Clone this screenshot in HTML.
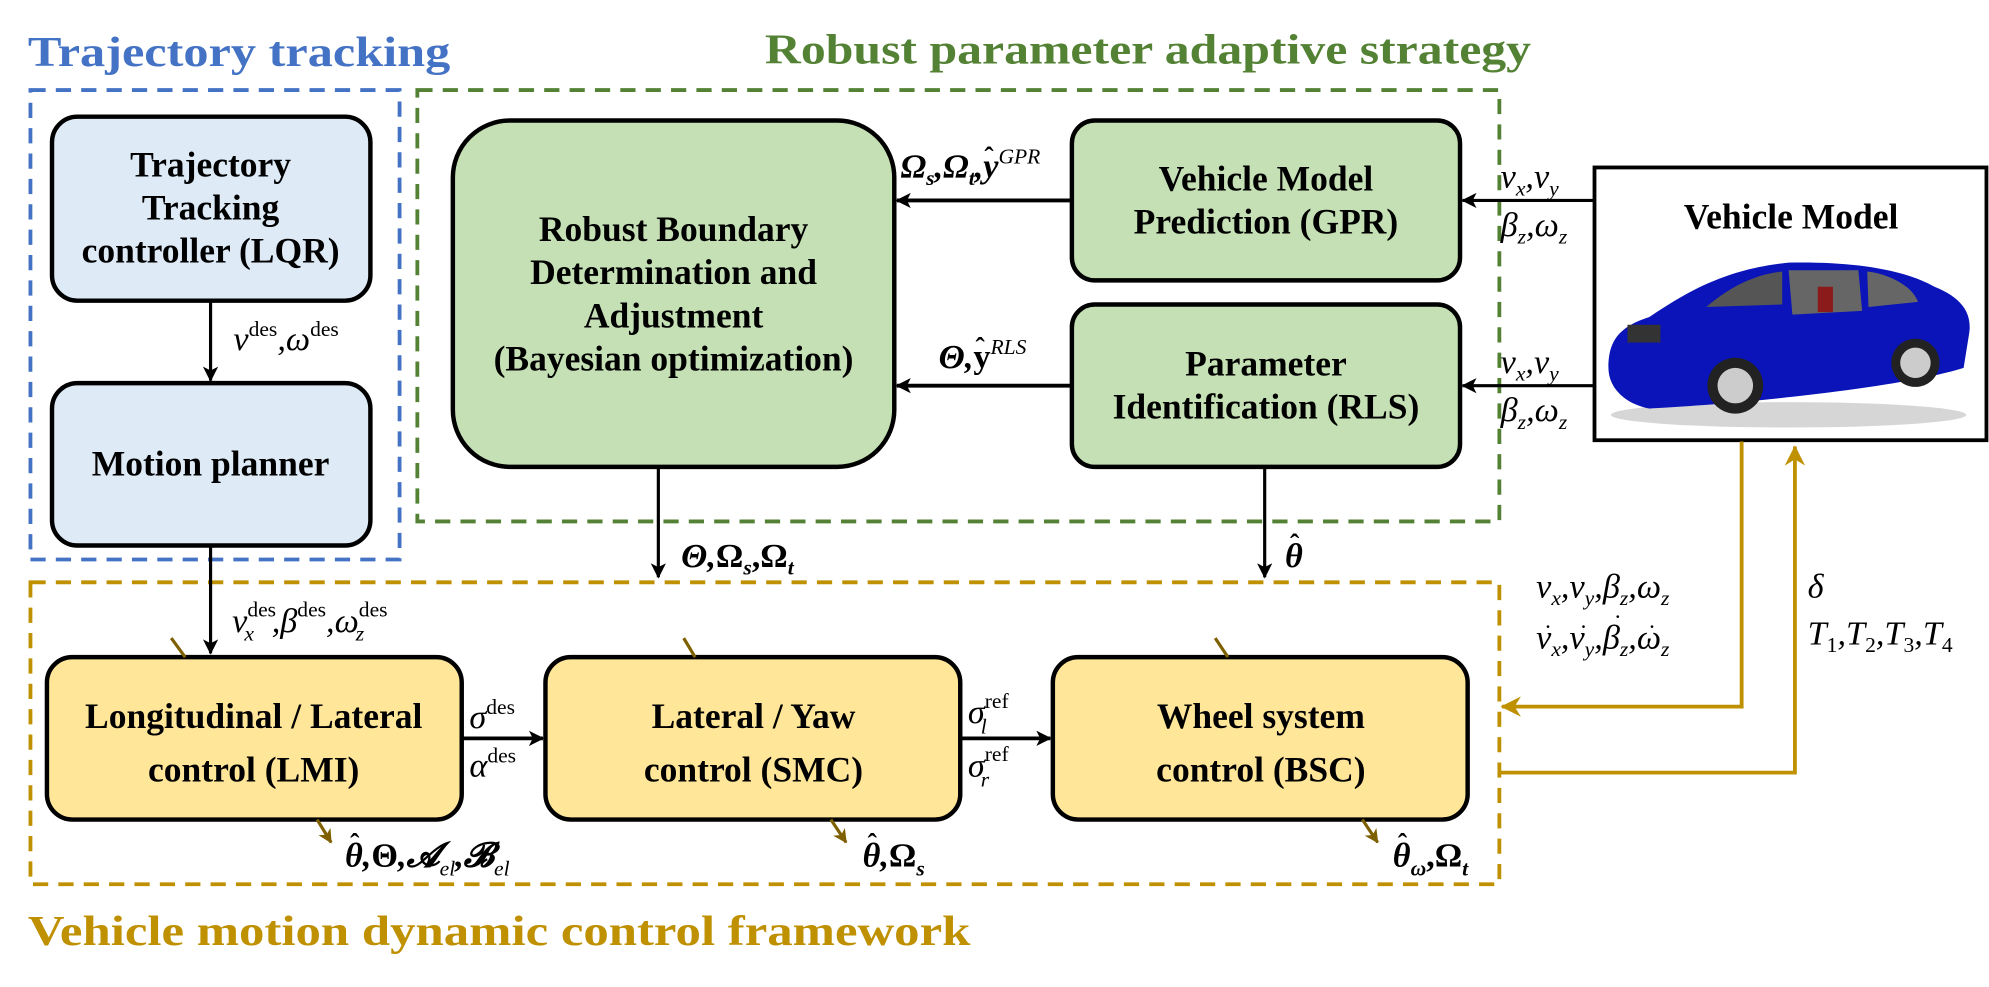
<!DOCTYPE html>
<html><head><meta charset="utf-8"><style>
html,body{margin:0;padding:0;background:#fff;}
svg{display:block;}
text{font-family:"Liberation Serif",serif;}
.b{font-weight:bold;font-size:28px;fill:#000;}
.m{font-style:italic;font-size:27px;fill:#000;}
.mb{font-style:italic;font-weight:bold;font-size:27px;fill:#000;}
.s{font-size:17px;}
.h{font-size:22px;font-style:normal;font-weight:bold;}
</style></head><body>
<svg width="1989" height="987" viewBox="0 0 1568 778" preserveAspectRatio="none" xmlns="http://www.w3.org/2000/svg">
<defs>
<marker id="ak" markerWidth="12" markerHeight="12" refX="11" refY="6" orient="auto" markerUnits="userSpaceOnUse"><path d="M0,0 L12,6 L0,12 L3,6 z" fill="#000"/></marker>
<marker id="ag" markerWidth="16" markerHeight="16" refX="15" refY="8" orient="auto" markerUnits="userSpaceOnUse"><path d="M0,0 L16,8 L0,16 L5,8 z" fill="#BF9000"/></marker>
<marker id="ab" markerWidth="11" markerHeight="11" refX="10" refY="5.5" orient="auto" markerUnits="userSpaceOnUse"><path d="M0,0 L11,5.5 L0,11 L3,5.5 z" fill="#7F6000"/></marker>
</defs>
<!-- titles -->
<text x="22" y="52" font-weight="bold" font-size="33" fill="#4472C4" textLength="333" lengthAdjust="spacingAndGlyphs">Trajectory tracking</text>
<text x="603" y="50" font-weight="bold" font-size="33" fill="#548235" textLength="604" lengthAdjust="spacingAndGlyphs">Robust parameter adaptive strategy</text>
<text x="22" y="745" font-weight="bold" font-size="33" fill="#BF9000" textLength="743" lengthAdjust="spacingAndGlyphs">Vehicle motion dynamic control framework</text>
<!-- dashed groups -->
<rect x="24" y="71" width="291" height="370" fill="none" stroke="#4472C4" stroke-width="3" stroke-dasharray="12,8"/>
<rect x="329" y="71" width="853" height="340" fill="none" stroke="#548235" stroke-width="3" stroke-dasharray="12,8"/>
<rect x="24" y="459" width="1158" height="238" fill="none" stroke="#BF9000" stroke-width="3" stroke-dasharray="12,8"/>
<!-- blue boxes -->
<rect x="41" y="92" width="251" height="145" rx="20" fill="#DEEBF7" stroke="#000" stroke-width="3.5"/>
<text class="b" text-anchor="middle"><tspan x="166" y="139">Trajectory</tspan><tspan x="166" y="173">Tracking</tspan><tspan x="166" y="207">controller (LQR)</tspan></text>
<rect x="41" y="302" width="251" height="128" rx="20" fill="#DEEBF7" stroke="#000" stroke-width="3.5"/>
<text class="b" x="166" y="375" text-anchor="middle">Motion planner</text>
<line x1="166" y1="237" x2="166" y2="300" stroke="#000" stroke-width="2.5" marker-end="url(#ak)"/>
<text class="m" x="184" y="276">v<tspan class="s" dy="-11" font-style="normal">des</tspan><tspan dy="11">,ω</tspan><tspan class="s" dy="-11" font-style="normal">des</tspan></text>
<!-- green boxes -->
<rect x="357" y="95" width="348" height="273" rx="45" fill="#C5E0B4" stroke="#000" stroke-width="3.5"/>
<text class="b" text-anchor="middle"><tspan x="531" y="190">Robust Boundary</tspan><tspan x="531" y="224">Determination and</tspan><tspan x="531" y="258">Adjustment</tspan><tspan x="531" y="292">(Bayesian optimization)</tspan></text>
<rect x="845" y="95" width="306" height="126" rx="18" fill="#C5E0B4" stroke="#000" stroke-width="3.5"/>
<text class="b" text-anchor="middle"><tspan x="998" y="150">Vehicle Model</tspan><tspan x="998" y="184">Prediction (GPR)</tspan></text>
<rect x="845" y="240" width="306" height="128" rx="18" fill="#C5E0B4" stroke="#000" stroke-width="3.5"/>
<text class="b" text-anchor="middle"><tspan x="998" y="296">Parameter</tspan><tspan x="998" y="330">Identification (RLS)</tspan></text>
<line x1="845" y1="158" x2="707" y2="158" stroke="#000" stroke-width="3" marker-end="url(#ak)"/>
<text class="mb" x="710" y="140" font-style="normal">Ω<tspan class="s" dy="6" font-style="italic">s</tspan><tspan dy="-6">,Ω</tspan><tspan class="s" dy="6" font-style="italic">t</tspan><tspan dy="-6">,y</tspan><tspan class="s" dy="-11" font-weight="normal" font-style="italic">GPR</tspan></text>
<text class="h" x="776" y="131">ˆ</text>
<line x1="845" y1="304" x2="707" y2="304" stroke="#000" stroke-width="3" marker-end="url(#ak)"/>
<text class="mb" x="740" y="290">Θ,<tspan font-style="normal">y</tspan><tspan class="s" dy="-11" font-weight="normal">RLS</tspan></text>
<text class="h" x="769" y="281">ˆ</text>
<!-- vehicle model -->
<rect x="1257" y="132" width="309" height="215" fill="#fff" stroke="#000" stroke-width="3"/>
<text class="b" x="1412" y="180" text-anchor="middle">Vehicle Model</text>
<ellipse cx="1410" cy="327" rx="140" ry="10" fill="#bbb" opacity="0.6"/>
<path d="M1268,290 C1268,270 1275,258 1300,250 C1330,230 1360,212 1410,207 C1460,206 1500,212 1525,226 C1550,236 1555,250 1552,265 L1548,290 C1500,305 1380,318 1300,322 C1280,318 1268,305 1268,290 Z" fill="#0A14B8"/>
<path d="M1345,242 C1365,225 1385,216 1405,214 L1405,240 Z" fill="#555"/>
<path d="M1410,213 L1465,213 L1468,245 L1413,248 Z" fill="#666"/>
<path d="M1472,214 C1490,216 1508,226 1512,238 L1473,242 Z" fill="#666"/>
<rect x="1433" y="226" width="12" height="20" fill="#8b1a1a"/>
<rect x="1283" y="256" width="26" height="14" fill="#333"/>
<circle cx="1368" cy="304" r="22" fill="#222"/><circle cx="1368" cy="304" r="14" fill="#ccc"/>
<circle cx="1510" cy="286" r="19" fill="#222"/><circle cx="1510" cy="286" r="12" fill="#ccc"/>
<line x1="1257" y1="158" x2="1153" y2="158" stroke="#000" stroke-width="2.5" marker-end="url(#ak)"/>
<line x1="1257" y1="304" x2="1153" y2="304" stroke="#000" stroke-width="2.5" marker-end="url(#ak)"/>
<text class="m" x="1183" y="148">v<tspan class="s" dy="6">x</tspan><tspan dy="-6">,v</tspan><tspan class="s" dy="6">y</tspan></text>
<text class="m" x="1183" y="186">β<tspan class="s" dy="6">z</tspan><tspan dy="-6">,ω</tspan><tspan class="s" dy="6">z</tspan></text>
<text class="m" x="1183" y="294">v<tspan class="s" dy="6">x</tspan><tspan dy="-6">,v</tspan><tspan class="s" dy="6">y</tspan></text>
<text class="m" x="1183" y="332">β<tspan class="s" dy="6">z</tspan><tspan dy="-6">,ω</tspan><tspan class="s" dy="6">z</tspan></text>
<!-- down arrows -->
<line x1="519" y1="368" x2="519" y2="455" stroke="#000" stroke-width="2.5" marker-end="url(#ak)"/>
<text class="mb" x="537" y="447">Θ,<tspan font-style="normal">Ω</tspan><tspan class="s" dy="6">s</tspan><tspan dy="-6" font-style="normal">,Ω</tspan><tspan class="s" dy="6">t</tspan></text>
<line x1="997" y1="368" x2="997" y2="455" stroke="#000" stroke-width="2.5" marker-end="url(#ak)"/>
<text class="mb" x="1013" y="447">θ</text><text class="h" x="1017" y="436">ˆ</text>
<line x1="166" y1="430" x2="166" y2="515" stroke="#000" stroke-width="2.5" marker-end="url(#ak)"/>
<text class="m" x="183" y="498">v<tspan class="s" dy="-12" font-style="normal">des</tspan><tspan class="s" dx="-25" dy="19">x</tspan><tspan dx="14" dy="-7">,β</tspan><tspan class="s" dy="-12" font-style="normal">des</tspan><tspan dy="12">,ω</tspan><tspan class="s" dy="-12" font-style="normal">des</tspan><tspan class="s" dx="-25" dy="19">z</tspan></text>
<!-- yellow boxes -->
<rect x="37" y="518" width="327" height="128" rx="20" fill="#FFE699" stroke="#000" stroke-width="3.5"/>
<text class="b" text-anchor="middle"><tspan x="200" y="574">Longitudinal / Lateral</tspan><tspan x="200" y="616">control (LMI)</tspan></text>
<rect x="430" y="518" width="327" height="128" rx="20" fill="#FFE699" stroke="#000" stroke-width="3.5"/>
<text class="b" text-anchor="middle"><tspan x="594" y="574">Lateral / Yaw</tspan><tspan x="594" y="616">control (SMC)</tspan></text>
<rect x="830" y="518" width="327" height="128" rx="20" fill="#FFE699" stroke="#000" stroke-width="3.5"/>
<text class="b" text-anchor="middle"><tspan x="994" y="574">Wheel system</tspan><tspan x="994" y="616">control (BSC)</tspan></text>
<line x1="364" y1="582" x2="428" y2="582" stroke="#000" stroke-width="3" marker-end="url(#ak)"/>
<text class="m" x="370" y="574">σ<tspan class="s" dy="-11" font-style="normal">des</tspan></text>
<text class="m" x="370" y="612">α<tspan class="s" dy="-11" font-style="normal">des</tspan></text>
<line x1="757" y1="582" x2="828" y2="582" stroke="#000" stroke-width="3" marker-end="url(#ak)"/>
<text class="m" x="763" y="570">σ<tspan class="s" dy="-12" font-style="normal">ref</tspan><tspan class="s" dx="-22" dy="20">l</tspan></text>
<text class="m" x="763" y="612">σ<tspan class="s" dy="-12" font-style="normal">ref</tspan><tspan class="s" dx="-22" dy="20">r</tspan></text>
<!-- brown ticks -->
<g stroke="#7F6000" stroke-width="2.5">
<line x1="135" y1="503" x2="146" y2="518"/>
<line x1="539" y1="503" x2="548" y2="518"/>
<line x1="958" y1="503" x2="968" y2="518"/>
<line x1="250" y1="646" x2="261" y2="664" marker-end="url(#ab)"/>
<line x1="655" y1="646" x2="667" y2="664" marker-end="url(#ab)"/>
<line x1="1074" y1="646" x2="1086" y2="664" marker-end="url(#ab)"/>
</g>
<text class="mb" x="272" y="683">θ,<tspan font-style="normal">Θ</tspan>,𝓐<tspan class="s" dy="7" font-weight="normal">el</tspan><tspan dy="-7">,𝓑</tspan><tspan class="s" dy="7" font-weight="normal">el</tspan></text>
<text class="h" x="276" y="672">ˆ</text>
<text class="mb" x="680" y="683">θ,<tspan font-style="normal">Ω</tspan><tspan class="s" dy="7">s</tspan></text>
<text class="h" x="684" y="672">ˆ</text>
<text class="mb" x="1098" y="683">θ<tspan class="s" dy="7">ω</tspan><tspan dy="-7" font-style="normal">,Ω</tspan><tspan class="s" dy="7">t</tspan></text>
<text class="h" x="1102" y="672">ˆ</text>
<!-- gold feedback -->
<polyline points="1373,348 1373,557 1184,557" fill="none" stroke="#BF9000" stroke-width="3" marker-end="url(#ag)"/>
<polyline points="1182,609 1415,609 1415,352" fill="none" stroke="#BF9000" stroke-width="3" marker-end="url(#ag)"/>
<text class="m" x="1211" y="471">v<tspan class="s" dy="6">x</tspan><tspan dy="-6">,v</tspan><tspan class="s" dy="6">y</tspan><tspan dy="-6">,β</tspan><tspan class="s" dy="6">z</tspan><tspan dy="-6">,ω</tspan><tspan class="s" dy="6">z</tspan></text>
<text class="m" x="1211" y="511">v<tspan class="s" dy="6">x</tspan><tspan dy="-6">,v</tspan><tspan class="s" dy="6">y</tspan><tspan dy="-6">,β</tspan><tspan class="s" dy="6">z</tspan><tspan dy="-6">,ω</tspan><tspan class="s" dy="6">z</tspan></text>
<g font-size="20" font-family="Liberation Serif">
<text x="1217" y="506">˙</text><text x="1245" y="506">˙</text><text x="1272" y="498">˙</text><text x="1299" y="506">˙</text>
</g>
<text class="m" x="1425" y="471">δ</text>
<text class="m" x="1425" y="508">T<tspan class="s" dy="6" font-style="normal">1</tspan><tspan dy="-6">,T</tspan><tspan class="s" dy="6" font-style="normal">2</tspan><tspan dy="-6">,T</tspan><tspan class="s" dy="6" font-style="normal">3</tspan><tspan dy="-6">,T</tspan><tspan class="s" dy="6" font-style="normal">4</tspan></text>
</svg>
</body></html>
